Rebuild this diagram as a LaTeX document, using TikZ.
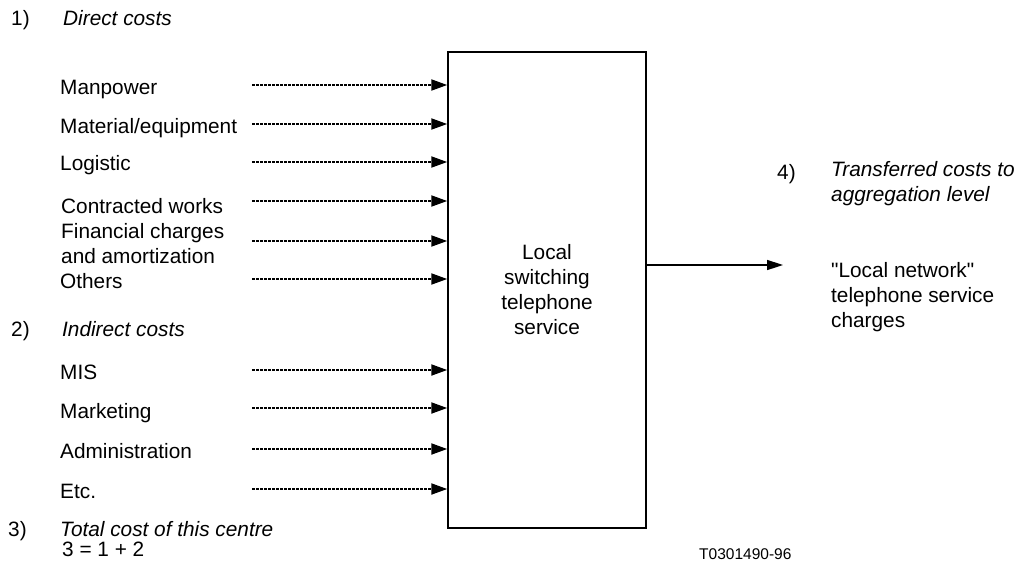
\documentclass[tikz,border=0pt]{standalone}
\usepackage{fontspec}
\setmainfont[Ligatures=TeXReset]{Liberation Sans}
\usetikzlibrary{arrows.meta,positioning}
\tikzset{cost/.style={anchor=base west,inner sep=0pt,align=left,
        font=\fontsize{20.8}{25}\selectfont},
    block/.style={cost,anchor=west},
    heading/.style={cost,font=\fontsize{20.8}{25}\selectfont\itshape},
    centrebox/.style={draw,line width=1.5pt,inner sep=0pt,align=center,
        minimum width=198pt,minimum height=476pt,
        font=\fontsize{20.8}{25}\selectfont},
    feed/.style={draw,line width=2pt,dash pattern=on 2.5pt off 1.5pt,
        -{Triangle[length=16pt,width=11pt]}},
    transfer/.style={draw,line width=1.5pt,
        -{Triangle[length=16pt,width=10pt]}}}

\begin{document}
\begin{tikzpicture}[x=1pt,y=-1pt]
    \useasboundingbox (0,0) rectangle (1022,568);
    % cost centre
    \node[centrebox] (centre) at (547,290)
        {Local\\switching\\telephone\\service};
    % direct costs
    \node[cost] (n1) at (11,25) {1)};
    \node[heading] (direct) at (63,25) {Direct costs};
    \node[cost] (manpower) at (60,94) {Manpower};
    \node[cost] (material) at (60,133) {Material/equipment};
    \node[cost] (logistic) at (60,170) {Logistic};
    \node[cost] (contracted) at (61,213) {Contracted works};
    \node[block] (financial) at (61,244) {Financial charges\\and amortization};
    \node[cost] (others) at (60,288) {Others};
    % indirect costs
    \node[cost] (n2) at (11,336) {2)};
    \node[heading] (indirect) at (62,336) {Indirect costs};
    \node[cost] (mis) at (60,379) {MIS};
    \node[cost] (marketing) at (60,418) {Marketing};
    \node[cost] (admin) at (60,458) {Administration};
    \node[cost] (etc) at (60,498) {Etc.};
    % total
    \node[cost] (n3) at (8,536) {3)};
    \node[heading] (total) at (60,536) {Total cost of this centre};
    \node[cost] (sum) at (62,556) {3 = 1 + 2};
    % transferred costs
    \node[cost] (n4) at (777,179) {4)};
    \node[block,font=\fontsize{20.8}{25}\selectfont\itshape] (transferred)
        at (831,184) {Transferred costs to\\aggregation level};
    \node[block] (charges) at (831,297)
        {"Local network"\\telephone service\\charges};
    \node[anchor=base west,inner sep=0pt,font=\fontsize{15.5}{18}\selectfont]
        (ref) at (699,559) {T0301490-96};

    % arrows into the centre
    \foreach \name/\y in {a/85,b/124,c/162,d/201,e/241,f/279,
                          g/370,h/408,i/449,j/489}
    {
        \coordinate (\name) at (252,\y);
        \draw[feed] (\name) -- (\name -| centre.west);
    }
    % arrow out of the centre
    \coordinate (out) at (783,265);
    \draw[transfer] (centre.east |- out) -- (out);
\end{tikzpicture}
\end{document}
